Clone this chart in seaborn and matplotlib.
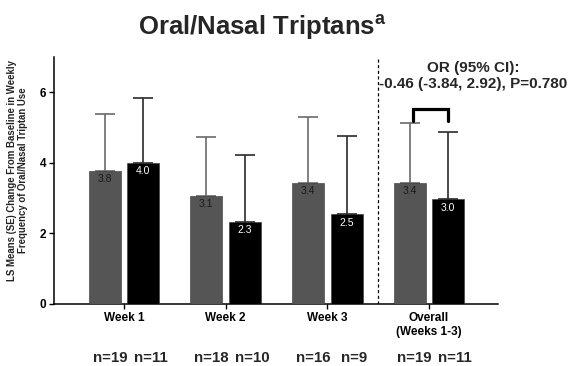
import matplotlib
matplotlib.use("Agg")
import matplotlib.pyplot as plt
import matplotlib.transforms as mtransforms
import seaborn as sns
import pandas as pd

# ---- data ----
weeks = ["Week 1", "Week 2", "Week 3", "Overall\n(Weeks 1-3)"]
groups = ["Group A", "Group B"]
means_a = [3.78, 3.07, 3.43, 3.43]
means_b = [4.00, 2.33, 2.54, 2.97]
se_a = [1.61, 1.65, 1.86, 1.69]
se_b = [1.84, 1.89, 2.21, 1.91]
n_a = [19, 18, 16, 19]
n_b = [11, 10, 9, 11]
yticks = [0, 2, 4, 6]
title = "Oral/Nasal Triptans"
or_text = "OR (95% CI):\n-0.46 (-3.84, 2.92), P=0.780"
ylabel = "LS Means (SE) Change From Baseline in Weekly\nFrequency of Oral/Nasal Triptan Use"

sns.set_style("ticks")
plt.rcParams["font.family"] = ["Liberation Sans", "DejaVu Sans"]
plt.rcParams["mathtext.fontset"] = "custom"
plt.rcParams["mathtext.bf"] = "Liberation Sans:bold"
plt.rcParams["mathtext.rm"] = "Liberation Sans"

df = pd.DataFrame({
    "week": weeks * 2,
    "group": [groups[0]] * 4 + [groups[1]] * 4,
    "value": means_a + means_b,
})
palette = {groups[0]: "#555555", groups[1]: "#000000"}

fig = plt.figure(figsize=(5.7, 3.66), dpi=100)
ax = fig.add_axes([54 / 570, 1 - 304 / 366, 444 / 570, 247 / 366])

sns.barplot(data=df, x="week", y="value", hue="group", order=weeks,
            hue_order=groups, palette=palette, width=0.76, gap=0.17,
            errorbar=None, legend=False, edgecolor="#333333", linewidth=0.4,
            ax=ax, zorder=3)

ses = [se_a, se_b]
means = [means_a, means_b]
ecolors = ["#6a6a6a", "#2a2a2a"]
txtcolors = ["#1a1a1a", "white"]
centers = []
bar_conts = list(ax.containers)
for gi, cont in enumerate(bar_conts):
    cs = []
    for bi, patch in enumerate(cont.patches):
        xc = patch.get_x() + patch.get_width() / 2
        h = patch.get_height()
        cs.append(xc)
        ax.errorbar([xc], [h], yerr=[[0], [ses[gi][bi]]], fmt="none",
                    ecolor=ecolors[gi], elinewidth=1.2, capsize=7.2,
                    capthick=1.2, zorder=2)
        ax.annotate(f"{means[gi][bi]:.1f}", xy=(xc, h), xytext=(0, -2.5),
                    textcoords="offset points", ha="center", va="top",
                    fontsize=7.5, color=txtcolors[gi], zorder=5)
    centers.append(cs)

# bracket over overall bars
xl, xr = centers[0][3] + 0.03, centers[1][3]
ax.plot([xl, xl, xr, xr], [5.18, 5.53, 5.53, 5.18], color="black",
        lw=2.3, solid_joinstyle="miter", clip_on=False, zorder=6)

ax.axvline(2.5, color="black", lw=0.9, ls=(0, (2.5, 2)), zorder=1)

ax.text(3.44, 6.46, or_text, ha="center", va="center", fontsize=11,
        fontweight="bold", linespacing=1.2, clip_on=False)

ax.set_xlim(-0.69, 3.68)
ax.set_ylim(0, 7)
ax.set_yticks(yticks)
ax.set_yticklabels([str(t) for t in yticks], fontsize=8.5, fontweight="bold")
ax.set_xticks(range(len(weeks)))
ax.set_xticklabels(weeks, fontsize=8.5, fontweight="bold", linespacing=1.25)
ax.tick_params(axis="both", length=3.5, width=1.0, pad=2, colors="black")
ax.set_xlabel("")
ax.set_ylabel(ylabel, fontsize=6.9, fontweight="bold", color="#222222",
              linespacing=1.2)
ax.yaxis.set_label_coords(-0.058, 0.54)
for s in ["top", "right"]:
    ax.spines[s].set_visible(False)
for s in ["left", "bottom"]:
    ax.spines[s].set_linewidth(1.1)
    ax.spines[s].set_color("black")

trans = mtransforms.blended_transform_factory(ax.transData, fig.transFigure)
for i in range(len(weeks)):
    ax.text(i - 0.14, 0.022, f"n={n_a[i]}", transform=trans, ha="center",
            va="center", fontsize=10.8, fontweight="bold")
    ax.text(i + 0.26, 0.022, f"n={n_b[i]}", transform=trans, ha="center",
            va="center", fontsize=10.8, fontweight="bold")

fig.text(262 / 570, 1 - 27 / 366, title + r"$^{\mathbf{a}}$", ha="center",
         va="center", fontsize=18.5, fontweight="bold")

fig.savefig("out.png", dpi=100)
